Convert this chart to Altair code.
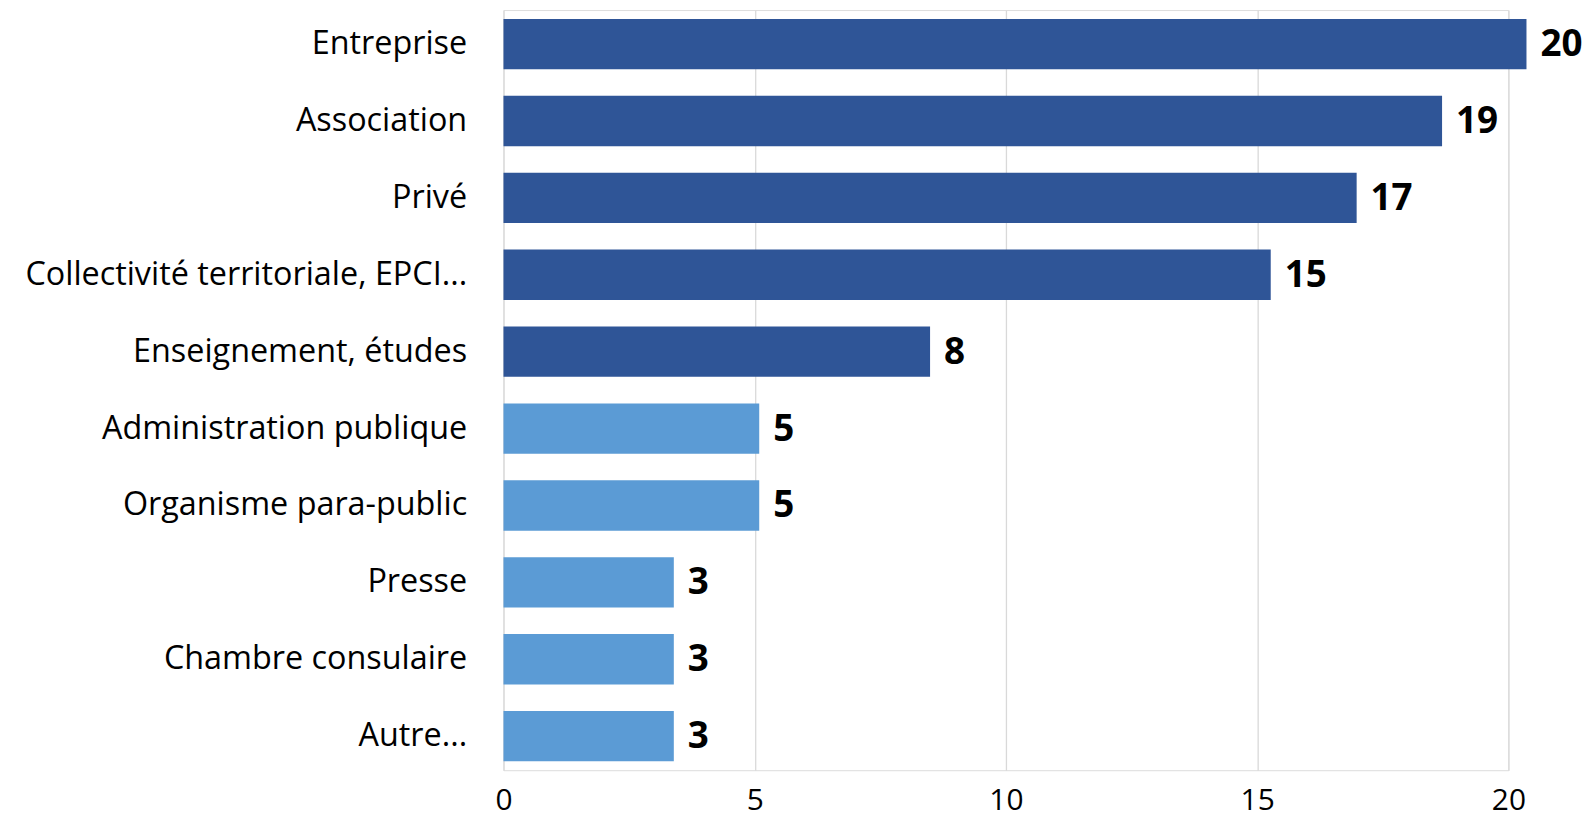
import altair as alt
import pandas as pd

categories = [
    "Entreprise",
    "Association",
    "Privé",
    "Collectivité territoriale, EPCI...",
    "Enseignement, études",
    "Administration publique",
    "Organisme para-public",
    "Presse",
    "Chambre consulaire",
    "Autre...",
]
bar_lengths = [20.36, 18.68, 16.98, 15.27, 8.49, 5.09, 5.09, 3.39, 3.39, 3.39]
value_labels = [20, 19, 17, 15, 8, 5, 5, 3, 3, 3]
tones = ["fort"] * 5 + ["faible"] * 5
tone_domain = ["fort", "faible"]
tone_colors = ["#2F5597", "#5B9BD5"]
x_ticks = [0, 5, 10, 15, 20]

df = pd.DataFrame({
    "cat": categories,
    "len": bar_lengths,
    "lab": value_labels,
    "tone": tones,
})

FONT = "Open Sans"

y_enc = alt.Y(
    "cat:N",
    sort=categories,
    title=None,
    scale=alt.Scale(paddingInner=0.345, paddingOuter=0.116),
    axis=alt.Axis(
        domain=False,
        ticks=False,
        labelFont=FONT,
        labelFontSize=32.5,
        labelColor="#000000",
        labelPadding=37,
        labelLimit=600,
    ),
)
x_enc = alt.X(
    "len:Q",
    title=None,
    scale=alt.Scale(domain=[0, 20], nice=False),
    axis=alt.Axis(
        values=x_ticks,
        domain=False,
        ticks=False,
        grid=True,
        gridColor="#D9D9D9",
        gridWidth=1.3,
        labelFont=FONT,
        labelFontSize=30,
        labelColor="#000000",
        labelPadding=16,
        labelFlush=False,
    ),
)

bars = alt.Chart(df).mark_bar().encode(
    y=y_enc,
    x=x_enc,
    color=alt.Color("tone:N", scale=alt.Scale(domain=tone_domain, range=tone_colors), legend=None),
)

texts = alt.Chart(df).mark_text(
    align="left",
    baseline="middle",
    dx=14,
    dy=1,
    font=FONT,
    fontSize=37,
    fontWeight="bold",
    color="#000000",
).encode(
    y=alt.Y("cat:N", sort=categories),
    x=alt.X("len:Q"),
    text=alt.Text("lab:Q"),
)

chart = alt.layer(bars, texts).properties(
    width=1010,
    height=764,
    autosize="none",
    padding={"left": 498, "top": 0, "right": 77, "bottom": 50},
).configure_view(stroke=None).configure(background="white")

chart.save("out.html", embed_options={"renderer": "svg", "actions": False})
